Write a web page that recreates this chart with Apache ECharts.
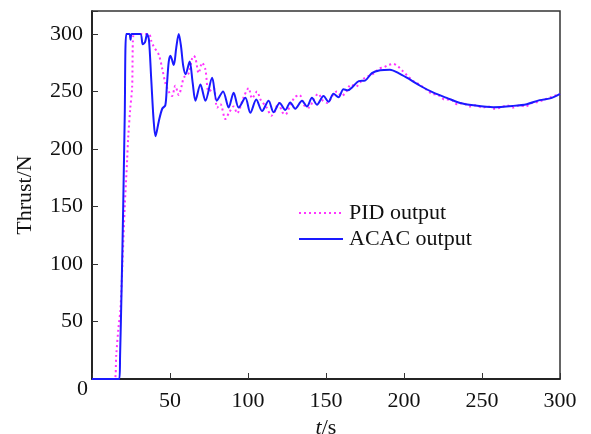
<!DOCTYPE html>
<html>
<head>
<meta charset="utf-8">
<script src="https://cdn.jsdelivr.net/npm/echarts@6/dist/echarts.min.js"></script>
<style>
  html, body { margin: 0; padding: 0; background: #fff; }
  #chart { width: 591px; height: 434px; }
</style>
</head>
<body>
<div id="chart"></div>
<script>
// 时间轴刻度
const xTicks = [0, 50, 100, 150, 200, 250, 300]
const yTicks = [0, 50, 100, 150, 200, 250, 300]

// ACAC 输出
const acacTime = [
  0, 17.5, 18, 19, 20, 21, 22, 24, 24.7, 25.5,
  31, 32.5, 34, 35.3, 36.5, 38, 39.5, 40.7, 42.8, 45,
  47, 48, 49.2, 50.3, 52.4, 54, 55.6, 57, 58.5, 60,
  62.6, 64.5, 66.3, 69.5, 72.7, 77, 80, 84, 87.6, 90.8,
  94, 98.3, 101.5, 105.3, 109, 113.2, 116.4, 120.3, 123.9, 127.1,
  130.3, 134.6, 137.8, 141, 144.2, 148.4, 151.6, 154.8, 158, 161.2,
  164, 167, 171, 175, 179.4, 184.7, 191, 196.5, 201.8, 210.3,
  218.9, 227.4, 236, 244.5, 257.3, 270, 278.7, 287, 293.6, 300
]
const acacThrust = [
  0, 0, 20, 80, 150, 230, 300, 300, 295, 300,
  300, 291, 293, 300, 295, 260, 225, 211, 224, 235,
  238, 255, 276, 281, 273, 288, 300, 290, 272, 265,
  276, 258, 242, 256, 242, 262, 242, 250, 236, 249,
  236, 244.5, 231.5, 243, 233, 242, 232, 240, 234, 240.5,
  235, 242, 237, 244.5, 238.5, 246, 241, 248, 245, 252,
  251, 254, 259, 259.5, 266, 268.5, 269, 266, 262, 255,
  249, 244.5, 240, 238, 236.4, 237.5, 239, 242.5, 244, 248
]

// PID 输出
const pidTime = [
  0, 14.6, 15.5, 17, 18.2, 19.5, 21, 22.5, 23.2, 24.5,
  25.7, 26.8, 36.4, 38, 39.6, 42.8, 45, 47, 49.2, 51.3,
  53.4, 55.6, 57.7, 58.8, 62, 64, 65.2, 66.3, 68.4, 70.6,
  72.7, 74.8, 78, 80.2, 82.3, 85.5, 88, 90.8, 93, 97.2,
  100.4, 102.6, 105.8, 108, 112, 115, 117, 119.5, 122, 124,
  127, 130, 133, 136, 139, 142, 145, 148, 151, 154,
  157, 160, 163, 166, 169, 172, 175, 178, 181, 184,
  187, 190, 193, 196, 199, 202, 206, 210, 214, 218,
  222, 226, 230, 234, 238, 242, 246, 250, 254, 258,
  262, 266, 270, 274, 278, 282, 286, 290, 294, 298, 300
]
const pidThrust = [
  0, 0, 20, 45, 60, 100, 150, 190, 210, 235,
  253, 300, 300, 294, 289, 282, 270, 257.5, 250, 246,
  255, 247, 256, 262, 266, 278, 281, 279, 266, 275,
  269, 250, 253, 236, 239, 226, 232, 237, 231, 245,
  253, 244, 250, 243, 236, 229, 232, 240, 232, 230,
  238, 245, 247, 238, 236, 243, 248, 242, 240, 246,
  250, 246, 250, 256, 254, 258, 262, 264, 266, 270,
  271, 273, 274, 272, 268, 264, 259, 256, 252, 248,
  247, 243, 243, 239, 240, 237, 238, 236, 237, 235,
  236, 238, 236, 238, 237, 240, 241, 243, 245, 247, 248
]

const zip = (xs, ys) => xs.map((x, i) => [x, ys[i]])
const serif = 'Liberation Serif'

const myChart = echarts.init(document.getElementById('chart'))
const option = {
  animation: false,
  textStyle: { fontFamily: serif },
  grid: {
    left: 92,
    right: 31,
    top: 11,
    bottom: 55,
    // 坐标轴文字超出画布也不缩小绘图区
    outerBoundsMode: 'none',
    containLabel: false,
    show: true,
    borderColor: '#333',
    borderWidth: 1.5
  },
  legend: {
    orient: 'vertical',
    left: 298,
    top: 202,
    padding: 0,
    itemWidth: 44,
    itemHeight: 10,
    itemGap: 4,
    // 图例不显示圆点
    itemStyle: { opacity: 0 },
    textStyle: { fontFamily: serif, fontSize: 22, color: '#111', padding: [0, 0, 0, 1] },
    data: ['PID output', 'ACAC output']
  },
  xAxis: {
    type: 'value',
    min: xTicks[0],
    max: xTicks[xTicks.length - 1],
    interval: 50,
    name: '{i|t}/s',
    nameLocation: 'middle',
    nameGap: 33,
    nameTextStyle: {
      fontFamily: serif,
      fontSize: 22,
      color: '#111',
      rich: { i: { fontStyle: 'italic', fontFamily: serif, fontSize: 22, color: '#111' } }
    },
    axisLine: { lineStyle: { color: '#111', width: 1.5 } },
    axisTick: { inside: true, length: 6, lineStyle: { color: '#333' } },
    axisLabel: {
      fontSize: 22,
      color: '#111',
      margin: 11,
      formatter: v => (v === 0 ? '' : v)
    },
    splitLine: { show: false }
  },
  yAxis: {
    type: 'value',
    min: 0,
    max: 320,
    interval: 50,
    name: 'Thrust/N',
    nameLocation: 'middle',
    nameGap: 56,
    nameTextStyle: { fontFamily: serif, fontSize: 22, color: '#111' },
    axisLine: { lineStyle: { color: '#111', width: 1.5 } },
    axisTick: { inside: true, length: 6, lineStyle: { color: '#333' } },
    axisLabel: {
      fontSize: 22,
      color: '#111',
      margin: 9,
      formatter: v => (yTicks.includes(v) && v !== 0 ? v : '')
    },
    splitLine: { show: false }
  },
  graphic: [
    {
      type: 'text',
      left: 77,
      top: 378,
      style: { text: '0', font: '22px "Liberation Serif"', fill: '#111' }
    }
  ],
  series: [
    {
      name: 'PID output',
      type: 'line',
      symbol: 'none',
      smooth: 0.3,
      color: '#ff33ff',
      lineStyle: { color: '#ff33ff', width: 2, type: [2, 3] },
      data: zip(pidTime, pidThrust),
      z: 2
    },
    {
      name: 'ACAC output',
      type: 'line',
      symbol: 'none',
      smooth: 0.3,
      color: '#1a1aff',
      lineStyle: { color: '#1a1aff', width: 2 },
      data: zip(acacTime, acacThrust),
      z: 3
    }
  ]
}
myChart.setOption(option)
window.addEventListener('resize', function() {
  myChart.resize()
})
</script>
</body>
</html>
